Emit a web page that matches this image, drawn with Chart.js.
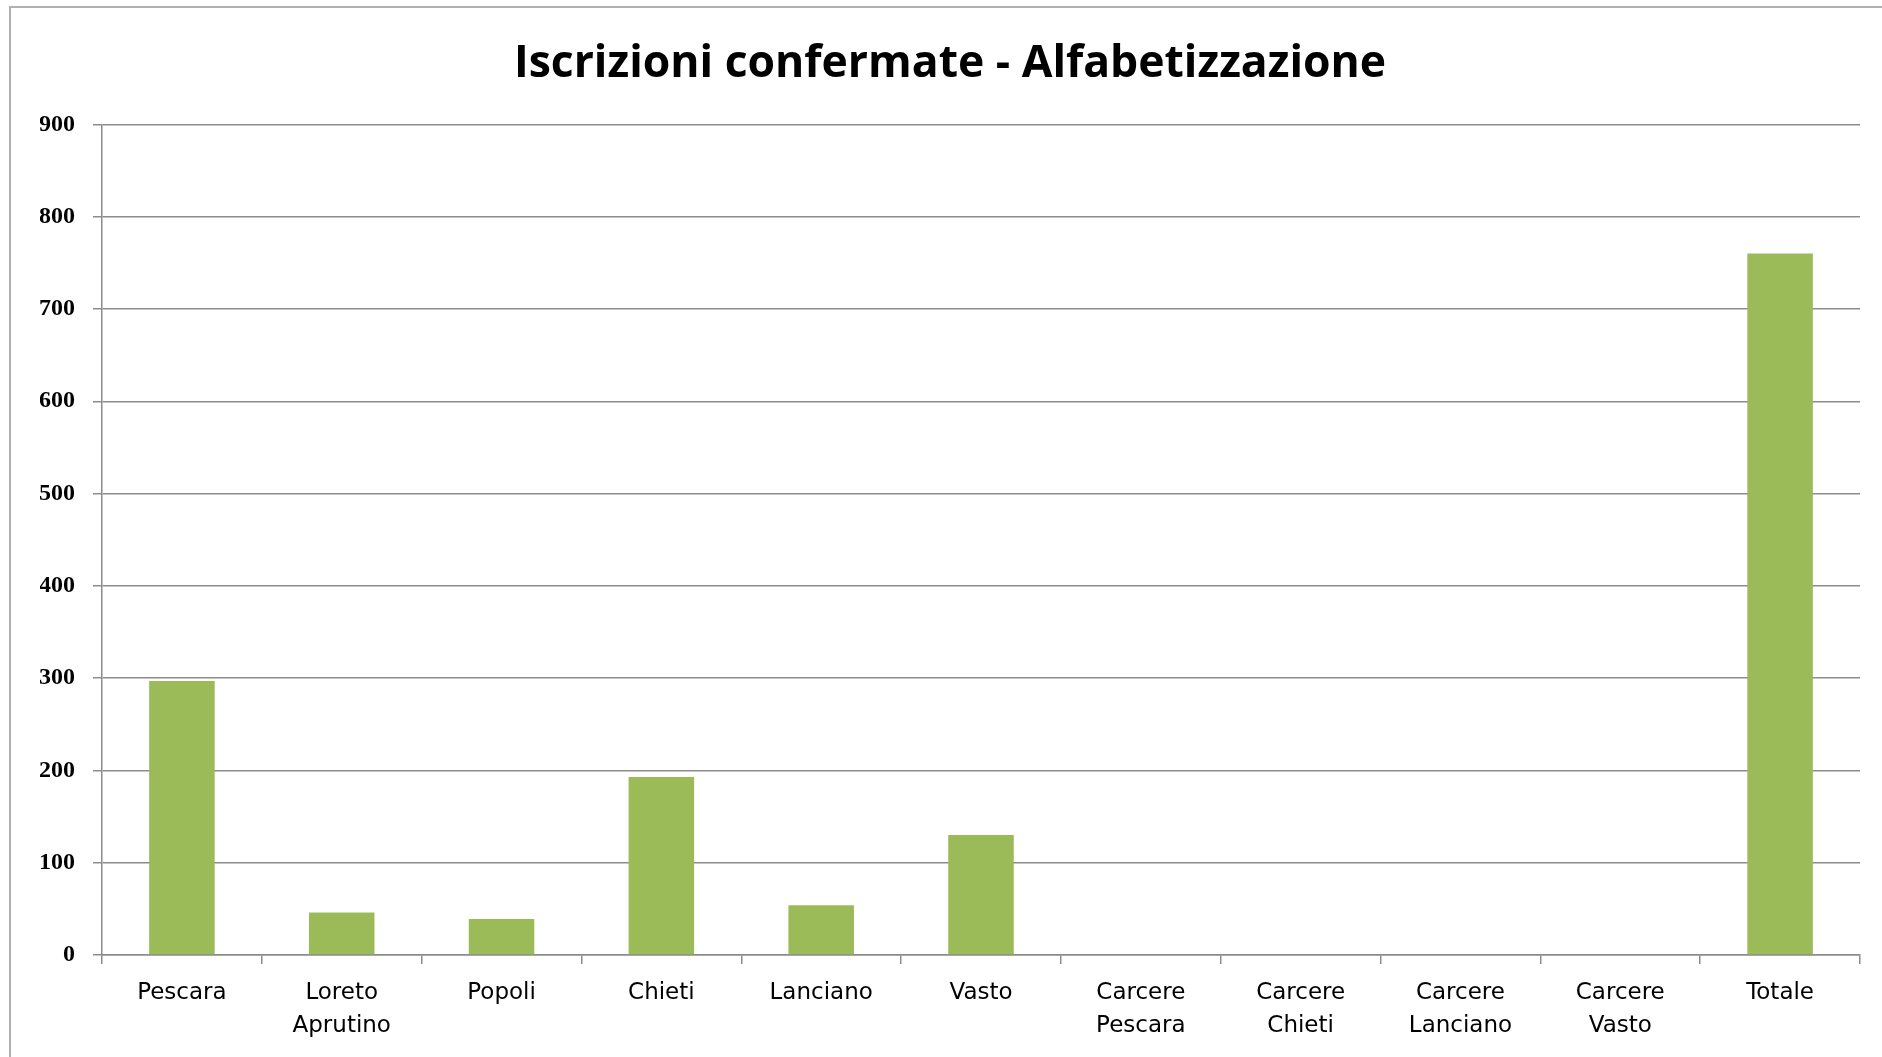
<!DOCTYPE html>
<html><head><meta charset="utf-8">
<script src="https://cdn.jsdelivr.net/npm/chart.js@4/dist/chart.umd.min.js"></script>
<style>
html,body{margin:0;padding:0;background:#fff;overflow:hidden;}
#wrap{position:absolute;left:0;top:0;width:1882px;height:1057px;}
#frame{position:absolute;left:9px;top:6px;width:1900px;height:1100px;border:2px solid #b0b0b0;box-sizing:border-box;}
canvas{position:absolute;left:0;top:0;}
</style></head>
<body><div id="wrap"><div id="frame"></div><canvas id="c" width="1882" height="1057"></canvas></div>
<script>
const titleText = 'Iscrizioni confermate - Alfabetizzazione';
const categories = [['Pescara'], ['Loreto','Aprutino'], ['Popoli'], ['Chieti'], ['Lanciano'], ['Vasto'],
  ['Carcere','Pescara'], ['Carcere','Chieti'], ['Carcere','Lanciano'], ['Carcere','Vasto'], ['Totale']];
const iscrizioni = [297, 46, 39, 193, 54, 130, 0, 0, 0, 0, 760];
const yMin = 0, yMax = 900, yStep = 100;

new Chart(document.getElementById('c'), {
  type: 'bar',
  data: { labels: categories, datasets: [{ data: iscrizioni, backgroundColor: '#9bbb59', borderWidth: 0,
    barPercentage: 0.41, categoryPercentage: 1.0 }] },
  options: {
    responsive: false, animation: false,
    layout: { padding: { left: 40, right: 22, top: 0, bottom: 0 } },
    plugins: {
      legend: { display: false }, tooltip: { enabled: false },
      title: { display: true, text: titleText, color: '#000',
        font: { family: 'Open Sans', weight: 'bold', size: 44.5, lineHeight: 1.2 },
        padding: { top: 38, bottom: 33 } }
    },
    scales: {
      x: {
        grid: { display: true, offset: true, drawOnChartArea: false, drawTicks: true, tickLength: 9, color: '#8c8c8c', lineWidth: 1.5 },
        border: { display: true, color: '#8c8c8c', width: 1.5 },
        ticks: { color: '#000', padding: 12, maxRotation: 0, autoSkip: false,
          font: { family: 'DejaVu Sans', size: 23, lineHeight: 1.45 } },
        afterFit: s => { s.height = 1057 - 955; }
      },
      y: {
        min: yMin, max: yMax,
        grid: { color: '#8c8c8c', lineWidth: 1.5, tickLength: 9 },
        border: { display: true, color: '#8c8c8c', width: 1.5 },
        ticks: { stepSize: yStep, color: '#000', padding: 18,
          font: { family: 'Liberation Serif', weight: 'bold', size: 24 } },
        afterFit: s => { s.width = 62; }
      }
    }
  }
});
</script></body></html>
